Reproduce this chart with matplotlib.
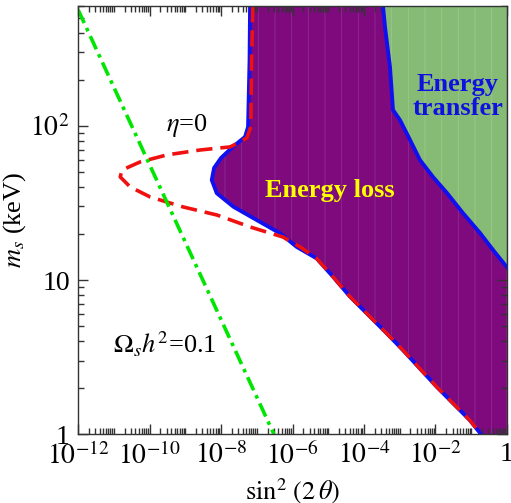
import numpy as np
import matplotlib
matplotlib.use("Agg")
import matplotlib.pyplot as plt
from matplotlib.ticker import FixedLocator, LogLocator, NullFormatter, FuncFormatter

plt.rcParams['font.family'] = ['Liberation Serif', 'DejaVu Serif']
plt.rcParams['mathtext.fontset'] = 'stix'
plt.rcParams['hatch.linewidth'] = 0.6

# energy loss boundary (blue), left edge of purple region
loss_sin2 = [6.47e-8, 6.27e-8, 5.69e-8, 4.69e-8, 2.17e-8, 1.0e-8, 6.37e-9, 5.48e-9,
             7.57e-9, 2.21e-8, 9.95e-8, 4.47e-7, 1.31e-6, 4.75e-6, 1.36e-5, 4.06e-5,
             1.19e-4, 4.32e-4, 1.23e-3, 1.08e-2, 9.2e-2, 0.187]
loss_ms = [600, 268, 98.6, 84.9, 73.4, 62.0, 53.4, 44.6,
           36.6, 29.9, 24.5, 20.1, 16.4, 13.8, 10.5, 7.8,
           6.08, 4.51, 3.51, 2.03, 1.23, 1.0]

# energy transfer boundary (green region left edge)
transfer_sin2 = [3.40e-4, 3.86e-4, 5.33e-4, 6.47e-4, 1.02e-3, 1.94e-3, 3.68e-3,
                 8.51e-3, 2.10e-2, 5.87e-2, 0.176, 0.406, 1.0]
transfer_ms = [600, 440, 242, 127, 109, 81.1, 60.1, 46.7, 36.7, 27.2, 20.2, 15.7, 12.1]

# eta = 0 curve (red dashed)
eta_sin2 = [7.71e-8, 7.13e-8, 6.78e-8, 5.24e-8, 3.40e-8, 1.79e-8, 2.59e-9, 3.09e-10,
            5.42e-11, 1.70e-11, 1.50e-11, 2.85e-11, 1.03e-10, 8.65e-10, 7.73e-9,
            6.47e-8, 5.42e-7, 1.62e-6, 4.75e-6, 1.36e-5, 4.06e-5, 1.19e-4, 4.32e-4,
            1.23e-3, 1.08e-2, 9.2e-2, 0.187]
eta_ms = [600, 268, 98.6, 83.6, 78.7, 73.1, 69.8, 64.9,
          58.4, 51.8, 46.7, 40.2, 34.6, 29.8, 26.4,
          22.1, 19.0, 16.4, 13.8, 10.5, 7.8, 6.08, 4.51,
          3.51, 2.03, 1.23, 1.0]

# Omega_s h^2 = 0.1 line (green dash-dot)
omega_sin2 = [1e-12, 3.0e-7]
omega_ms = [566, 1.0]

xmin, xmax = 1e-12, 1.0
ymin, ymax = 1.0, 600.0

fig = plt.figure(figsize=(5.11, 5.03), dpi=100)
ax = fig.add_axes([0.153, 0.137, 0.839, 0.851])

ax.fill_betweenx(loss_ms, loss_sin2, xmax, facecolor='#7e0a7e',
                 edgecolor=(1, 1, 1, 0.14), hatch='|', linewidth=0, zorder=1)
ax.fill_betweenx(transfer_ms, transfer_sin2, xmax, facecolor='#86bb75',
                 edgecolor=(1, 1, 1, 0.18), hatch='|', linewidth=0, zorder=2)

ax.plot(loss_sin2, loss_ms, color='#1010f0', lw=2.8, zorder=3)
ax.plot(transfer_sin2, transfer_ms, color='#1010f0', lw=2.8, zorder=3)
ax.plot(eta_sin2, eta_ms, color='#f01010', lw=2.6, ls=(0, (4.5, 2.2)), zorder=4)
ax.plot(omega_sin2, omega_ms, color='#00e600', lw=2.6, ls=(0, (4, 1.5, 1, 1.5)), zorder=4)

ax.set_xscale('log')
ax.set_yscale('log')
ax.set_xlim(xmin, xmax)
ax.set_ylim(ymin, ymax)


def fmt(v, pos):
    e = int(round(np.log10(v)))
    if e == 0:
        return '1'
    if e == 1:
        return '10'
    return r'$10^{%d}$' % e


xmaj = [10.0 ** e for e in range(-12, 1, 2)]
ax.xaxis.set_major_locator(FixedLocator(xmaj))
ax.xaxis.set_major_formatter(FuncFormatter(fmt))
ax.xaxis.set_minor_locator(LogLocator(base=10, subs=np.arange(1, 10), numticks=40))
ax.xaxis.set_minor_formatter(NullFormatter())
ax.yaxis.set_major_locator(FixedLocator([1, 10, 100]))
ax.yaxis.set_major_formatter(FuncFormatter(fmt))
ax.yaxis.set_minor_locator(LogLocator(base=10, subs=np.arange(2, 10), numticks=20))
ax.yaxis.set_minor_formatter(NullFormatter())

ax.tick_params(which='both', direction='in', top=True, right=True, labelsize=20,
               colors='#333333', labelcolor='black')
ax.tick_params(which='major', length=7, width=1, pad=6)
ax.tick_params(which='minor', length=4, width=1)
for s in ax.spines.values():
    s.set_color('#333333')
    s.set_linewidth(1)
    s.set_zorder(5)

ax.set_xlabel(r'$\sin^2\,(2\,\theta)$', fontsize=19, labelpad=4)
ax.set_ylabel(r'$m_s$ (keV)', fontsize=19, labelpad=2)

ax.text(10 ** -8.95, 10 ** 2.0, r'$\eta$=0', fontsize=19, ha='center', va='center', zorder=6)
ax.text(10 ** -9.59, 10 ** 0.58, r'$\Omega_s h^2$=0.1', fontsize=19, ha='center', va='center', zorder=6)
ax.text(10 ** -4.95, 10 ** 1.58, 'Energy loss', fontsize=19, fontweight='bold',
        color='#ffff00', ha='center', va='center', zorder=6)
ax.text(10 ** -1.37, 10 ** 2.19, 'Energy\ntransfer', fontsize=19, fontweight='bold',
        color='#1010e0', ha='center', va='center', linespacing=1.05, zorder=6)

fig.savefig('out.png', dpi=100)
